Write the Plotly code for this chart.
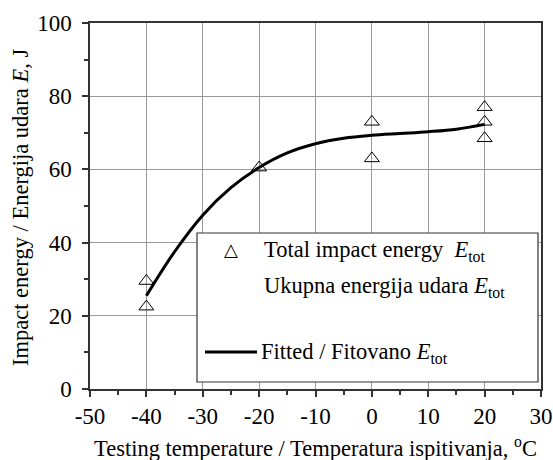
import plotly.graph_objects as go

# Measured impact energy at each testing temperature
temp_c = [-40, -40, -20, 0, 0, 20, 20, 20]
energy_j = [29.5, 22.5, 60.5, 73, 63, 77, 73, 68.5]

# Fitted curve of total impact energy
fit_temp = [-40, -35, -30, -25, -20, -15, -10, -5, 0, 5, 10, 15, 20]
fit_energy = [25.5, 37.5, 47.5, 55.0, 60.5, 64.5, 67.0, 68.5, 69.3, 69.8, 70.3, 71.0, 72.3]

x_ticks = [-50, -40, -30, -20, -10, 0, 10, 20, 30]
x_tick_text = ["-50", "-40", "-30", "-20", "-10", "0", "10", "20", "30"]
y_ticks = [0, 20, 40, 60, 80, 100]

FONT = "Liberation Serif"
TICK_SIZE = 23
TEXT_SIZE = 22.5

fig = go.Figure()
fig.add_trace(go.Scatter(
    x=fit_temp, y=fit_energy, mode="lines",
    line=dict(color="black", width=3, shape="spline", smoothing=1.0),
    showlegend=False, hoverinfo="skip",
))
fig.add_trace(go.Scatter(
    x=temp_c, y=energy_j, mode="markers",
    marker=dict(symbol="triangle-up-open", size=13, color="black", line=dict(width=1)),
    showlegend=False,
))

axis_common = dict(
    showline=True, linecolor="#333", linewidth=1.5, mirror=True,
    showgrid=True, gridcolor="#9a9a9a", gridwidth=1,
    ticks="outside", ticklen=6, tickcolor="#333", tickwidth=1.5,
    tickfont=dict(family=FONT, size=TICK_SIZE, color="black"),
    zeroline=False, automargin=False,
)

fig.update_xaxes(
    range=[-50, 30], tickvals=x_ticks, ticktext=x_tick_text,
    minor=dict(dtick=5, ticks="outside", ticklen=4, tickcolor="#333", showgrid=False),
    **axis_common,
)
fig.update_yaxes(
    range=[0, 100], tickvals=y_ticks, ticklabelstandoff=6,
    minor=dict(dtick=10, ticks="outside", ticklen=4, tickcolor="#333", showgrid=False),
    **axis_common,
)

def px(v):
    return (v - 90) / 451

def py(v):
    return (389 - v) / 366

# Axis titles
fig.add_annotation(xref="paper", yref="paper", x=px(315.5), y=py(447),
                   text="Testing temperature / Temperatura ispitivanja, <sup>o</sup>C",
                   showarrow=False, font=dict(family=FONT, size=TEXT_SIZE, color="black"),
                   xanchor="center", yanchor="middle")
fig.add_annotation(xref="paper", yref="paper", x=px(20), y=py(208),
                   text="Impact energy / Energija udara <i>E</i>, J", textangle=-90,
                   showarrow=False, font=dict(family=FONT, size=TEXT_SIZE, color="black"),
                   xanchor="center", yanchor="middle")

# Legend box drawn by hand
fig.add_shape(type="rect", xref="paper", yref="paper",
              x0=px(197), x1=px(538), y0=py(382), y1=py(233),
              line=dict(color="#333", width=1.2), fillcolor="white", layer="above")
fig.add_shape(type="line", xref="paper", yref="paper",
              x0=px(205), x1=px(257), y0=py(352), y1=py(352),
              line=dict(color="black", width=3), layer="above")

legend_font = dict(family=FONT, size=TEXT_SIZE, color="black")
fig.add_annotation(xref="paper", yref="paper", x=px(231), y=py(249),
                   text="△", showarrow=False, font=dict(family="DejaVu Sans", size=18, color="black"),
                   xanchor="center", yanchor="middle")
fig.add_annotation(xref="paper", yref="paper", x=px(262), y=py(251),
                   text="Total impact energy  <i>E</i><sub>tot</sub>", showarrow=False,
                   font=legend_font, xanchor="left", yanchor="middle")
fig.add_annotation(xref="paper", yref="paper", x=px(262), y=py(287),
                   text="Ukupna energija udara <i>E</i><sub>tot</sub>", showarrow=False,
                   font=legend_font, xanchor="left", yanchor="middle")
fig.add_annotation(xref="paper", yref="paper", x=px(259), y=py(353),
                   text="Fitted / Fitovano <i>E</i><sub>tot</sub>", showarrow=False,
                   font=legend_font, xanchor="left", yanchor="middle")

fig.update_layout(
    width=553, height=460,
    margin=dict(l=90, r=12, t=23, b=71),
    paper_bgcolor="white", plot_bgcolor="white",
    font=dict(family=FONT, size=TEXT_SIZE, color="black"),
    showlegend=False,
)

fig.write_html("out.html")
